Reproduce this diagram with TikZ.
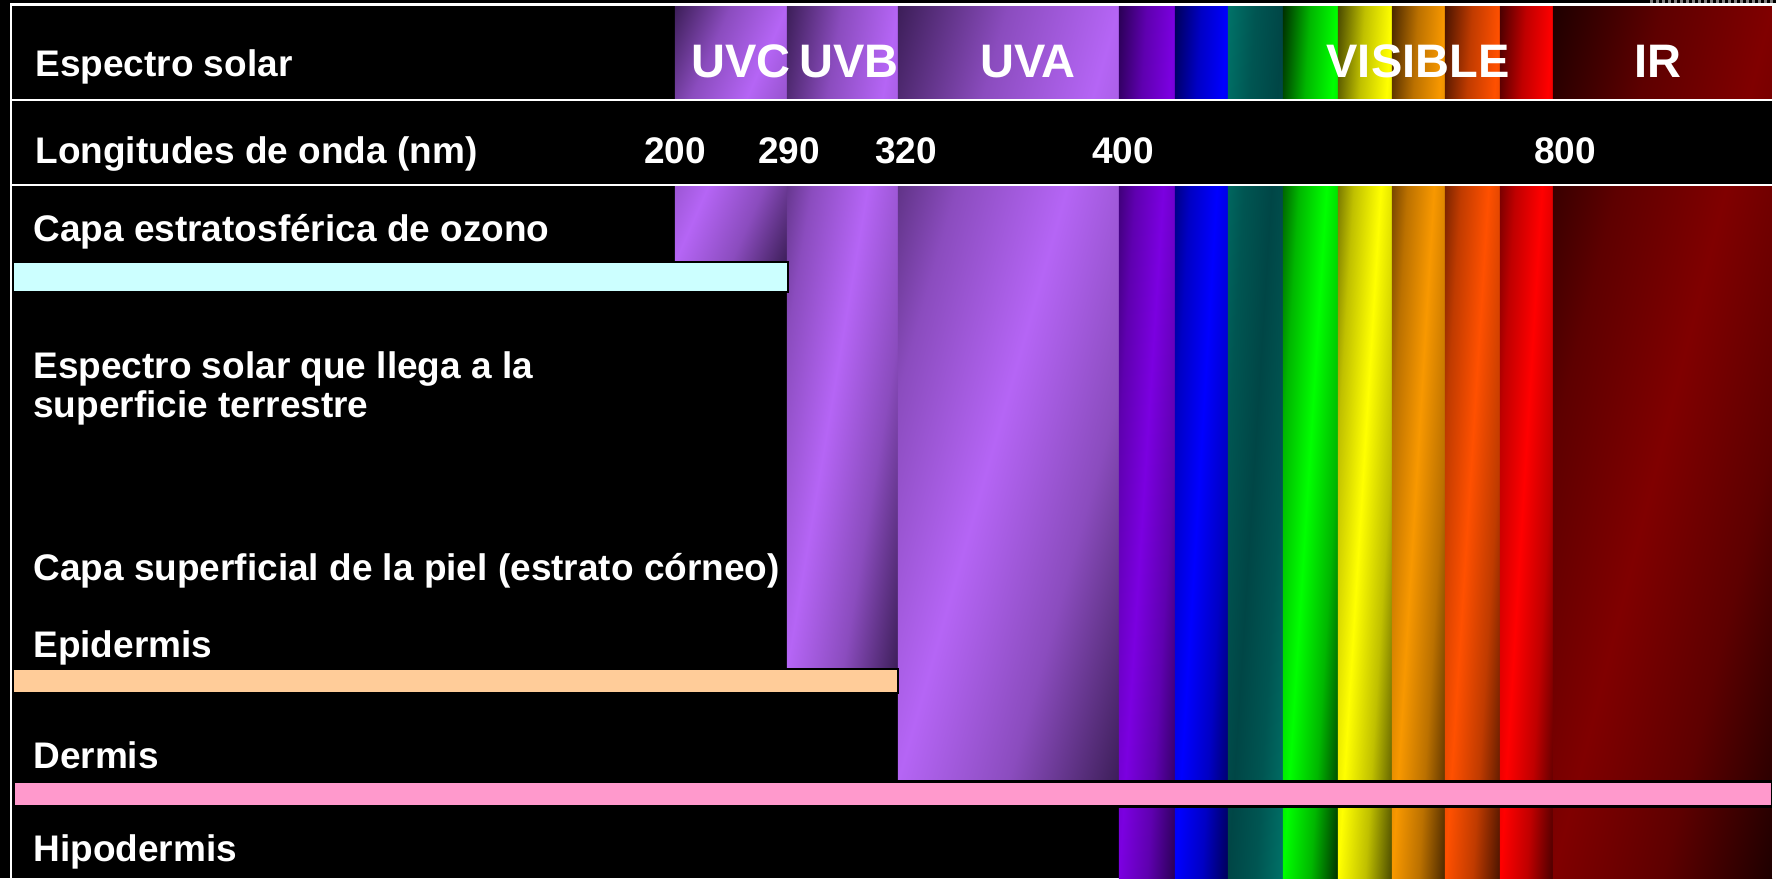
\documentclass[tikz,border=0pt]{standalone}
\usepackage{fontspec}
\setmainfont{Liberation Sans}
\usetikzlibrary{positioning}
\definecolor{uvE}{HTML}{3C1E58}\definecolor{uvM}{HTML}{B565F5}
\definecolor{vioE}{HTML}{2A0055}\definecolor{vioM}{HTML}{7B00E0}
\definecolor{bluE}{HTML}{000058}\definecolor{bluM}{HTML}{0000FF}
\definecolor{tealE}{HTML}{007268}\definecolor{tealM}{HTML}{004646}
\definecolor{grnE}{HTML}{003000}\definecolor{grnM}{HTML}{00FF00}
\definecolor{yelE}{HTML}{4A4A00}\definecolor{yelM}{HTML}{FFFF00}
\definecolor{oraE}{HTML}{4A2800}\definecolor{oraM}{HTML}{F89800}
\definecolor{orrE}{HTML}{4A1400}\definecolor{orrM}{HTML}{FF5000}
\definecolor{redE}{HTML}{4A0000}\definecolor{redM}{HTML}{FF0000}
\definecolor{irE}{HTML}{1E0000}\definecolor{irM}{HTML}{800000}
\definecolor{ozono}{HTML}{CCFFFF}
\definecolor{epid}{HTML}{FFCC99}
\definecolor{derm}{HTML}{FF99CC}
\colorlet{bandedge}{black}
\colorlet{bandmid}{black}
\pgfdeclareverticalshading[bandedge,bandmid]{band}{100bp}{color(0bp)=(bandedge); color(25bp)=(bandedge); color(37.5bp)=(bandmid!65!bandedge); color(50bp)=(bandmid); color(62.5bp)=(bandmid!65!bandedge); color(75bp)=(bandedge); color(100bp)=(bandedge)}
% one column of the spectrum: x0, x1, y0, y1 (px), dark colour, bright colour
\newcommand{\colband}[6]{%
  \pgfmathsetmacro{\bw}{(#2-#1)*0.005}%
  \pgfmathsetmacro{\bh}{(#4-#3)*0.005}%
  \colorlet{bandedge}{#5}\colorlet{bandmid}{#6}%
  \begin{scope}[transform canvas={cm={\bw,\bh,\bw,-\bh,({(#1+#2)/2},{(#3+#4)/2})}}]
    \shade[shading=band] (50pt,0pt) -- (0pt,50pt) -- (-50pt,0pt) -- (0pt,-50pt) -- cycle;
  \end{scope}}

\begin{document}
\begin{tikzpicture}[x=0.5pt,y=-0.5pt,
  lbl/.style={anchor=base west,inner sep=0,text=white,align=left,
    font=\bfseries\fontsize{18.5}{19.5}\selectfont},
  num/.style={anchor=base,inner sep=0,text=white,
    font=\bfseries\fontsize{18.5}{19.5}\selectfont},
  big/.style={anchor=base,inner sep=0,text=white,
    font=\bfseries\fontsize{23.5}{24}\selectfont},
  frame/.style={white,line width=1.25pt}]
\useasboundingbox (0,0) rectangle (1776,878);
\fill[black] (0,0) rectangle (1776,878);
% columns of the spectrum
\colband{675}{787}{6}{262}{uvE}{uvM}
\colband{787}{898}{6}{669}{uvE}{uvM}
\colband{898}{1119}{6}{781}{uvE}{uvM}
\colband{1119}{1175}{6}{878}{vioE}{vioM}
\colband{1175}{1228}{6}{878}{bluE}{bluM}
\colband{1228}{1283}{6}{878}{tealE}{tealM}
\colband{1283}{1338}{6}{878}{grnE}{grnM}
\colband{1338}{1392}{6}{878}{yelE}{yelM}
\colband{1392}{1445}{6}{878}{oraE}{oraM}
\colband{1445}{1500}{6}{878}{orrE}{orrM}
\colband{1500}{1553}{6}{878}{redE}{redM}
\colband{1553}{1772}{6}{878}{irE}{irM}
% row of wavelengths
\fill[black] (11,100) rectangle (1772,185);
% layers
\filldraw[fill=ozono,draw=black,line width=1pt] (13,262) rectangle (788,292);
\filldraw[fill=epid,draw=black,line width=1pt] (13,669) rectangle (898,693);
\filldraw[fill=derm,draw=black,line width=1.5pt] (13,781) rectangle (1772,806);
% frame
\draw[frame] (11,878) -- (11,4.5) -- (1772,4.5);
\draw[frame] (11,100) -- (1772,100);
\draw[frame] (11,185) -- (1772,185);
\fill[white] (1772,3) rectangle (1776,878);
\draw[gray,line width=1.5pt,dash pattern=on 1.5pt off 1.5pt] (1650,1.5) -- (1776,1.5);
% texts
\node[lbl] (espectro) at (35,76) {Espectro solar};
\node[big] (uvc) at (741,77) {UVC};
\node[big] (uvb) at (849,77) {UVB};
\node[big] (uva) at (1028,77) {UVA};
\node[big] (visible) at (1418,77) {VISIBLE};
\node[big] (ir) at (1658,77) {IR};
\node[lbl] (longitudes) at (35,163) {Longitudes de onda (nm)};
\node[num] (n200) at (675,163) {200};
\node[num] (n290) at (789,163) {290};
\node[num] (n320) at (906,163) {320};
\node[num] (n400) at (1123,163) {400};
\node[num] (n800) at (1565,163) {800};
\node[lbl] (ozono) at (33,241) {Capa estratosférica de ozono};
\node[lbl] (llega) at (33,417) {Espectro solar que llega a la\\superficie terrestre};
\node[lbl] (corneo) at (33,580) {Capa superficial de la piel (estrato córneo)};
\node[lbl] (epidermis) at (33,657) {Epidermis};
\node[lbl] (dermis) at (33,768) {Dermis};
\node[lbl] (hipodermis) at (33,861) {Hipodermis};
\end{tikzpicture}
\end{document}
